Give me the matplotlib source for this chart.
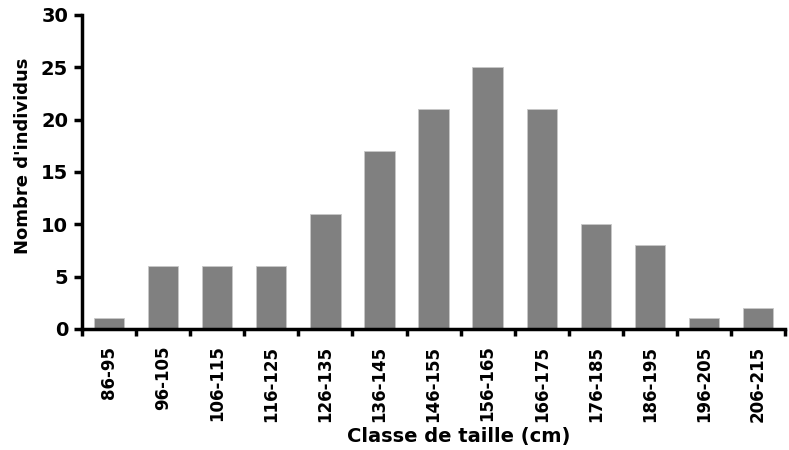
import numpy as np
import matplotlib.pyplot as plt

plt.rcParams['font.family'] = ['DejaVu Sans']
plt.rcParams['font.weight'] = 'bold'

# classes de taille et effectifs
classes = ["86-95", "96-105", "106-115", "116-125", "126-135", "136-145",
           "146-155", "156-165", "166-175", "176-185", "186-195", "196-205", "206-215"]
effectifs = [1, 6, 6, 6, 11, 17, 21, 25, 21, 10, 8, 1, 2]
y_ticks = [0, 5, 10, 15, 20, 25, 30]

x = np.arange(len(classes))

fig = plt.figure(figsize=(7.89, 4.5), dpi=100)
ax = fig.add_axes([0.104, 0.269, 0.891, 0.698])

ax.bar(x, effectifs, width=0.56, color='#808080', edgecolor='#c8c8c8', linewidth=0.6)

ax.set_xlim(-0.5, len(classes) - 0.5)
ax.set_ylim(0, 30)

# graduations y
ax.set_yticks(y_ticks)
ax.set_yticklabels([str(v) for v in y_ticks], fontweight='bold')
ax.tick_params(axis='y', direction='out', length=6, width=2.5, labelsize=14, pad=4)

# graduations x : traits entre les classes, etiquettes au centre
ax.set_xticks(x)
ax.set_xticklabels(classes, rotation=90, fontsize=12, fontweight='bold')
ax.tick_params(axis='x', which='major', length=0, pad=12)
ax.set_xticks(np.arange(-0.5, len(classes)), minor=True)
ax.tick_params(axis='x', which='minor', direction='out', length=5, width=2.5)

for side in ['top', 'right']:
    ax.spines[side].set_visible(False)
for side in ['left', 'bottom']:
    ax.spines[side].set_linewidth(2.5)

ax.set_ylabel("Nombre d'individus", fontsize=13, fontweight='bold')
ax.yaxis.set_label_coords(-0.071, 0.551)
ax.set_xlabel("Classe de taille (cm)", fontsize=14, fontweight='bold')
ax.xaxis.set_label_coords(0.536, -0.312)

fig.savefig('out.png', dpi=100)
